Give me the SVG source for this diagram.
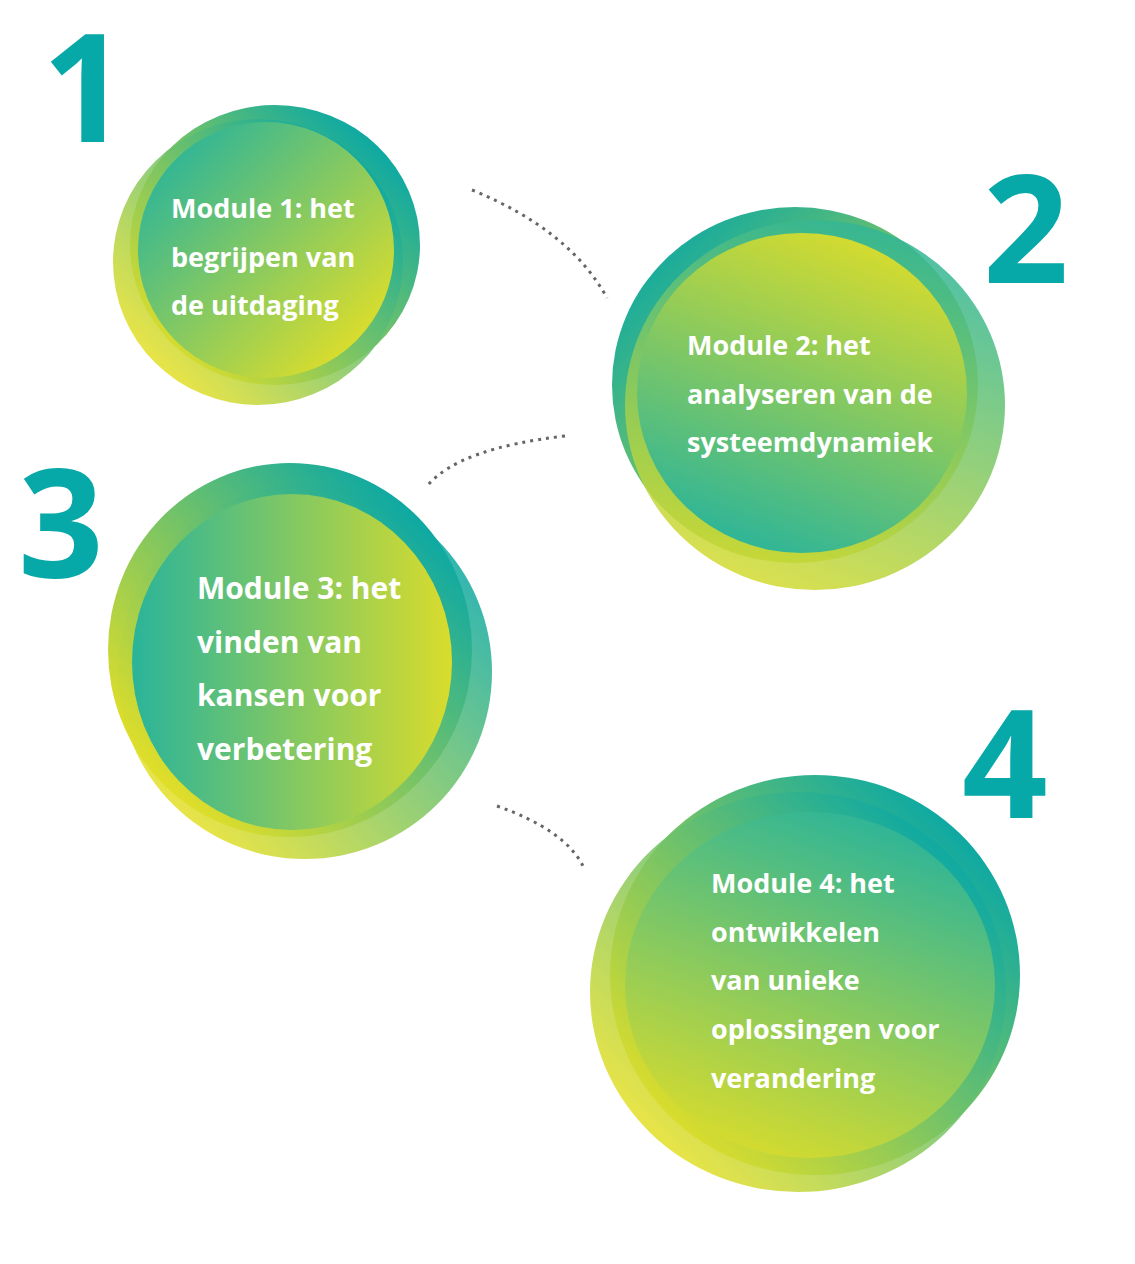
<svg xmlns="http://www.w3.org/2000/svg" width="1135" height="1264" viewBox="0 0 1135 1264">
<defs>
<linearGradient id="gA" x1="0" y1="1" x2="1" y2="0"><stop offset="0.15" stop-color="#e3df27"/><stop offset="0.85" stop-color="#0fa9a2"/></linearGradient>
<linearGradient id="gB" x1="0" y1="0" x2="1" y2="1"><stop offset="0.1" stop-color="#2ab49a"/><stop offset="0.9" stop-color="#e3df27"/></linearGradient>
<linearGradient id="gD" x1="0.7" y1="0" x2="0.3" y2="1"><stop offset="0" stop-color="#d9dc2c"/><stop offset="1" stop-color="#2ab49a"/></linearGradient>
<linearGradient id="gE" x1="0" y1="0.5" x2="1" y2="0.5"><stop offset="0" stop-color="#2ab49a"/><stop offset="1" stop-color="#d9dc2c"/></linearGradient>
<linearGradient id="gF" x1="0.3" y1="1" x2="0.7" y2="0"><stop offset="0" stop-color="#d9dc2c"/><stop offset="1" stop-color="#2ab49a"/></linearGradient>
<linearGradient id="gG" x1="0" y1="0" x2="1" y2="1"><stop offset="0.1" stop-color="#0fa9a2"/><stop offset="0.9" stop-color="#e3df27"/></linearGradient>
</defs>
<style>
.num{font-family:"Open Sans","DejaVu Sans",sans-serif;font-weight:700;fill:#07a9a8;}
.t{font-family:"Open Sans","DejaVu Sans",sans-serif;font-weight:700;fill:#fff;font-size:27px;}
.t3{font-size:30px;}
.c{fill:none;stroke:#666;stroke-width:3;stroke-dasharray:3 5;}
</style>
<text class="num" x="42" y="142" font-size="150">1</text>
<text class="num" x="983" y="283" font-size="150">2</text>
<text class="num" x="18" y="578" font-size="150">3</text>
<text class="num" x="962" y="818" font-size="150">4</text>
<g id="connectors">
<path class="c" d="M472 190 Q570 230 607 298"/>
<path class="c" d="M565 436 Q460 448 428 485"/>
<path class="c" d="M497 806 Q565 830 583 866"/>
</g>
<g id="node1">
<ellipse cx="275" cy="245" rx="145" ry="140" fill="url(#gA)"/>
<ellipse cx="258" cy="262" rx="145" ry="143" fill="url(#gA)" opacity="0.85"/>
<circle cx="266" cy="250" r="128" fill="url(#gB)"/>
<text class="t"><tspan x="171" y="218">Module 1: het</tspan><tspan x="171" y="267">begrijpen van</tspan><tspan x="171" y="315">de uitdaging</tspan></text>
</g>
<g id="node2">
<ellipse cx="795" cy="385" rx="183" ry="178" fill="url(#gG)"/>
<ellipse cx="815" cy="405" rx="190" ry="185" fill="url(#gF)" opacity="0.85"/>
<ellipse cx="802" cy="393" rx="165" ry="160" fill="url(#gD)"/>
<text class="t"><tspan x="687" y="355">Module 2: het</tspan><tspan x="687" y="404">analyseren van de</tspan><tspan x="687" y="452">systeemdynamiek</tspan></text>
</g>
<g id="node3">
<ellipse cx="290" cy="650" rx="182" ry="187" fill="url(#gA)"/>
<ellipse cx="305" cy="672" rx="187" ry="187" fill="url(#gA)" opacity="0.85"/>
<ellipse cx="292" cy="662" rx="160" ry="168" fill="url(#gE)"/>
<text class="t t3"><tspan x="197" y="599">Module 3: het</tspan><tspan x="197" y="653">vinden van</tspan><tspan x="197" y="706">kansen voor</tspan><tspan x="197" y="760">verbetering</tspan></text>
</g>
<g id="node4">
<ellipse cx="815" cy="975" rx="205" ry="200" fill="url(#gA)"/>
<ellipse cx="798" cy="992" rx="208" ry="200" fill="url(#gA)" opacity="0.85"/>
<ellipse cx="810" cy="985" rx="185" ry="173" fill="url(#gF)"/>
<text class="t"><tspan x="711" y="893">Module 4: het</tspan><tspan x="711" y="942">ontwikkelen</tspan><tspan x="711" y="990">van unieke</tspan><tspan x="711" y="1039">oplossingen voor</tspan><tspan x="711" y="1088">verandering</tspan></text>
</g>
</svg>
